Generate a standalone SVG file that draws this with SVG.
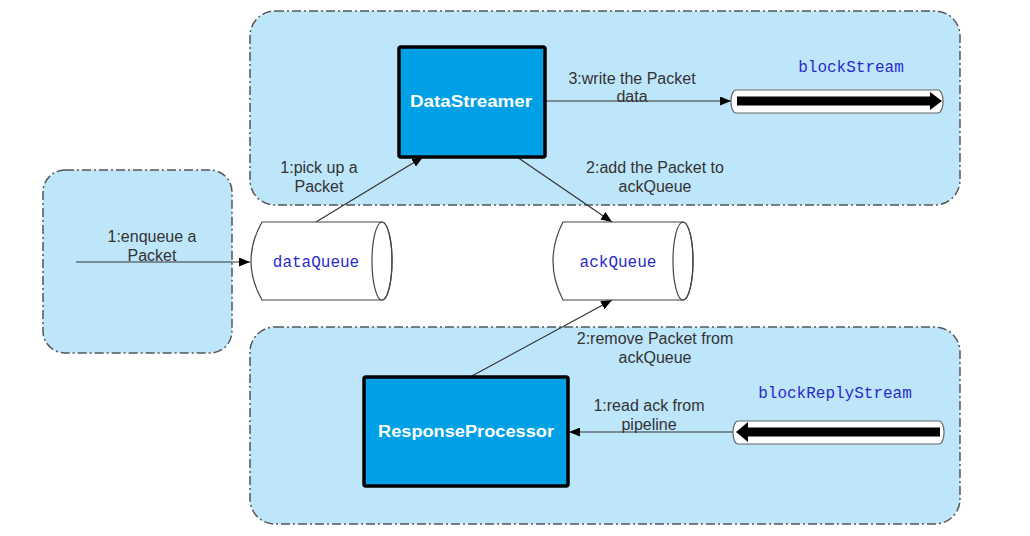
<svg xmlns="http://www.w3.org/2000/svg" width="1030" height="536" viewBox="0 0 1030 536">
<style>
.region{fill:#BEE6FA;stroke:#555;stroke-width:1.5;stroke-dasharray:9 3 2 3}
.proc{fill:#00A0E6;stroke:#000;stroke-width:3.5}
.proc-t{font-family:"Liberation Sans",Arial,sans-serif;font-weight:bold;font-size:16px;fill:#fff;text-anchor:middle}
.lbl{font-family:"Liberation Sans",Arial,sans-serif;font-size:16px;fill:#333;text-anchor:middle}
.mono{font-family:"Liberation Mono","DejaVu Sans Mono",monospace;font-size:16px;fill:#2A2ACC;text-anchor:middle}
.cyl{fill:#fff;stroke:#444;stroke-width:1.2}
.conn{stroke:#333;stroke-width:1.2;fill:none;marker-end:url(#arr)}
.pipe{fill:#fff;stroke:#666;stroke-width:1.2}
</style>
<defs>
<marker id="arr" markerUnits="userSpaceOnUse" markerWidth="11" markerHeight="9" refX="11" refY="4.5" orient="auto">
<path d="M0,0 L11,4.5 L0,9 z" fill="#000"/>
</marker>
</defs>
<rect width="1030" height="536" fill="#fff"/>
<g id="region-top"><rect class="region" x="250" y="11" width="710" height="194" rx="25"/></g>
<g id="region-left"><rect class="region" x="43" y="170" width="189" height="183" rx="22"/></g>
<g id="region-bottom"><rect class="region" x="250" y="327" width="710" height="197" rx="25"/></g>

<g id="connectors">
<path class="conn" d="M76,262 H250"/>
<path class="conn" d="M316,222 L423,157"/>
<path class="conn" d="M517,157 L612,222"/>
<path class="conn" d="M545,101 H731"/>
<path class="conn" d="M470,377 L612,300"/>
<path class="conn" d="M733,432 H569"/>
</g>

<g id="dataStreamer">
<rect class="proc" x="399" y="47" width="146" height="110" rx="2"/>
<text class="proc-t" x="471" y="107" textLength="122" lengthAdjust="spacingAndGlyphs">DataStreamer</text>
</g>
<g id="responseProcessor">
<rect class="proc" x="364" y="377" width="204" height="109" rx="2"/>
<text class="proc-t" x="466" y="437" textLength="176" lengthAdjust="spacingAndGlyphs">ResponseProcessor</text>
</g>

<g id="dataQueue">
<path class="cyl" d="M262,222 H382 A10,39 0 0 1 382,300 H262 Q240,261 262,222 Z"/>
<ellipse cx="382" cy="261" rx="10" ry="39" fill="none" stroke="#444" stroke-width="1.2"/>
<text class="mono" x="316" y="267">dataQueue</text>
</g>
<g id="ackQueue">
<path class="cyl" d="M563,222 H683 A10,39 0 0 1 683,300 H563 Q543,261 563,222 Z"/>
<ellipse cx="683" cy="261" rx="10" ry="39" fill="none" stroke="#444" stroke-width="1.2"/>
<text class="mono" x="618" y="267">ackQueue</text>
</g>

<g id="blockStream">
<rect class="pipe" x="731" y="90" width="212" height="23" rx="5" ry="11"/>
<rect x="737" y="96.5" width="195" height="9" fill="#000"/>
<path d="M930,92 L942,101 L930,110 z" fill="#000"/>
<text class="mono" x="851" y="72">blockStream</text>
</g>
<g id="blockReplyStream">
<rect class="pipe" x="733" y="421" width="211" height="23" rx="5" ry="11"/>
<rect x="746" y="427.5" width="194" height="9" fill="#000"/>
<path d="M748,422 L736,432 L748,442 z" fill="#000"/>
<text class="mono" x="835" y="398">blockReplyStream</text>
</g>

<g id="labels">
<text class="lbl" x="152" y="242">1:enqueue a</text>
<text class="lbl" x="152" y="261">Packet</text>
<text class="lbl" x="319" y="173">1:pick up a</text>
<text class="lbl" x="319" y="192">Packet</text>
<text class="lbl" x="655" y="173">2:add the Packet to</text>
<text class="lbl" x="655" y="192">ackQueue</text>
<text class="lbl" x="632" y="84">3:write the Packet</text>
<text class="lbl" x="632" y="102">data</text>
<text class="lbl" x="655" y="344">2:remove Packet from</text>
<text class="lbl" x="655" y="363">ackQueue</text>
<text class="lbl" x="649" y="411">1:read ack from</text>
<text class="lbl" x="649" y="430">pipeline</text>
</g>
</svg>
